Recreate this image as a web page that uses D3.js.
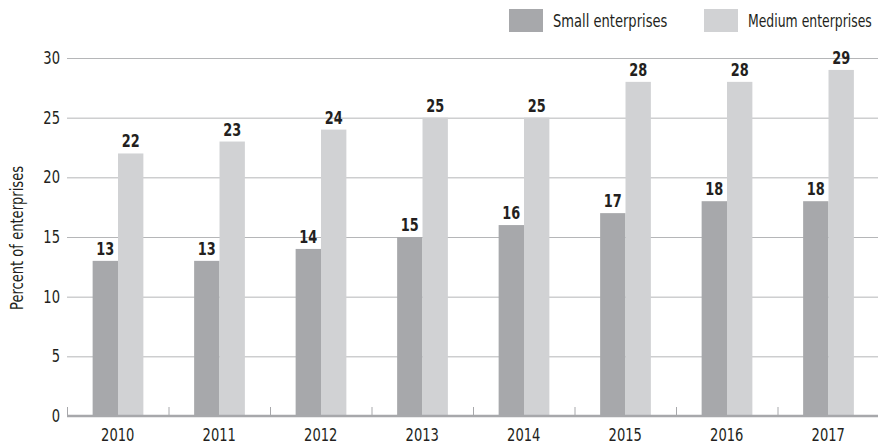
<!DOCTYPE html>
<html><head><meta charset="utf-8">
<script src="https://cdn.jsdelivr.net/npm/d3@7"></script>
<style>
body{margin:0;background:#fff;}
text{font-family:"DejaVu Sans",sans-serif;fill:#231f20;}
</style></head>
<body><svg id="c" width="878" height="444"></svg>
<script>
const years = ["2010","2011","2012","2013","2014","2015","2016","2017"];
const small = [13,13,14,15,16,17,18,18];
const medium = [22,23,24,25,25,28,28,29];
const seriesNames = ["Small enterprises","Medium enterprises"];
const colors = ["#a7a8ab","#d1d2d4"];
const yTicks = [0,5,10,15,20,25,30];

const svg = d3.select("#c");
const m = {left:67, right:0, top:58, bottom:28};
const W = 878, H = 444;
const SQ = 0.77; // horizontal condensing factor to mimic a condensed face

const x = d3.scaleBand().domain(years).range([m.left, 879]).paddingInner(0).paddingOuter(0);
const x1 = d3.scaleBand().domain([0,1]).range([x.bandwidth()*0.2525, x.bandwidth()*0.7525]);
const y = d3.scaleLinear().domain([0,30]).range([416,58]);

svg.append("g").selectAll("line").data(yTicks.filter(d=>d>0)).join("line")
  .attr("x1", m.left).attr("x2", W).attr("y1", d=>y(d)+0.5).attr("y2", d=>y(d)+0.5)
  .attr("stroke","#b5b6b8").attr("stroke-width",1);

svg.append("g").selectAll("text").data(yTicks).join("text")
  .attr("transform", d=>`translate(60,${y(d)}) scale(${SQ},1)`)
  .attr("dy","0.36em").attr("text-anchor","end")
  .attr("font-size",17).text(d=>d);

svg.append("text").attr("transform",`translate(23,238) rotate(-90) scale(${SQ},1)`)
  .attr("text-anchor","middle").attr("font-size",17).text("Percent of enterprises");

const data = years.map((yr,i)=>({yr, vals:[small[i], medium[i]]}));
const g = svg.append("g").selectAll("g").data(data).join("g")
  .attr("transform", d=>`translate(${x(d.yr)},0)`);
g.selectAll("rect").data(d=>d.vals.map((v,k)=>({v,k}))).join("rect")
  .attr("x", d=>x1(d.k)).attr("width", x1.bandwidth())
  .attr("y", d=>y(d.v)).attr("height", d=>y(0)-y(d.v))
  .attr("fill", d=>colors[d.k]);
g.selectAll("text").data(d=>d.vals.map((v,k)=>({v,k}))).join("text")
  .attr("transform", d=>`translate(${x1(d.k)+x1.bandwidth()/2},${y(d.v)-6}) scale(0.76,1)`)
  .attr("text-anchor","middle").attr("font-size",17).attr("font-weight","bold")
  .text(d=>d.v);

const xa = svg.append("g");
xa.append("line").attr("x1",m.left).attr("x2",W).attr("y1",416).attr("y2",416)
  .attr("stroke","#a7a8ab").attr("stroke-width",2.5);
const bounds = years.map(yr=>x(yr));
xa.selectAll("line.t").data(bounds).join("line").attr("class","t")
  .attr("x1",d=>d+0.5).attr("x2",d=>d+0.5).attr("y1",407).attr("y2",416)
  .attr("stroke","#a7a8ab").attr("stroke-width",1);
xa.selectAll("text").data(years).join("text")
  .attr("transform", d=>`translate(${x(d)+x.bandwidth()/2},441) scale(${SQ},1)`)
  .attr("text-anchor","middle").attr("font-size",17).text(d=>d);

const leg = [{x:509, tx:553},{x:704, tx:748}];
leg.forEach((l,i)=>{
  svg.append("rect").attr("x",l.x).attr("y",9).attr("width",34).attr("height",23).attr("fill",colors[i]);
  const t = svg.append("text").attr("dy","0.36em").attr("font-size",17).text(seriesNames[i]);
  const len = t.node().getComputedTextLength();
  const s = Math.min(SQ, 124/len);
  t.attr("transform", `translate(${l.tx},21) scale(${s},1)`);
});
</script></body></html>
